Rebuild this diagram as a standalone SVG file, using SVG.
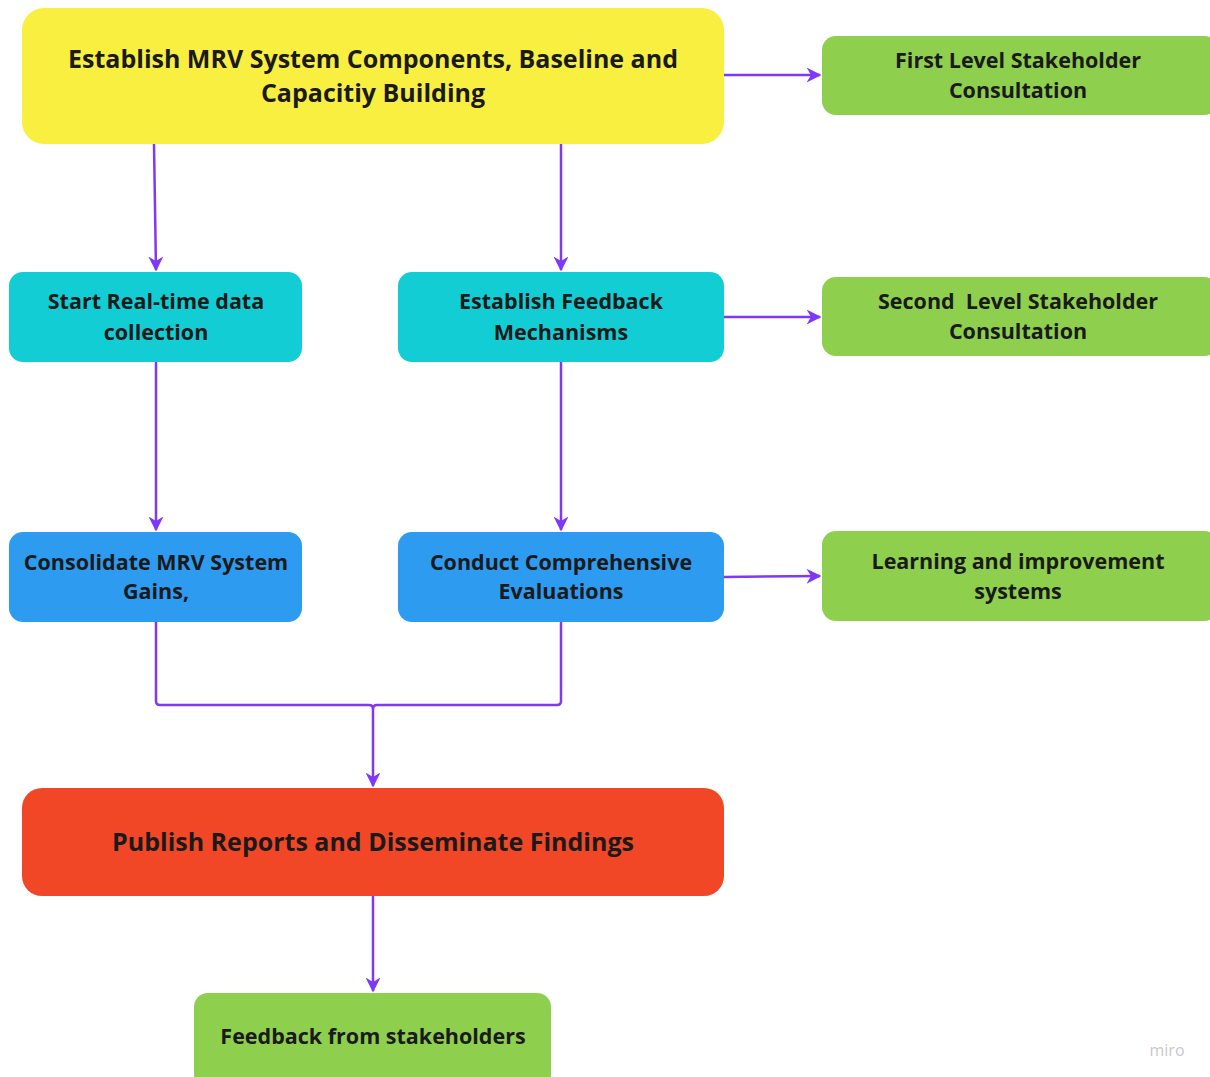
<svg xmlns="http://www.w3.org/2000/svg" width="1210" height="1077" viewBox="0 0 1210 1077">
<style>
.t{font-family:"Open Sans","Noto Sans","Liberation Sans",sans-serif;font-weight:700;fill:#1a1a1a;text-anchor:middle}
.big{font-size:25px}
.mid{font-size:21.5px}
.c{fill:none;stroke:#8038F8;stroke-width:2.5;stroke-linejoin:round}
</style>
<defs>
<marker id="ah" viewBox="0 0 10 10" refX="9" refY="5" markerWidth="6" markerHeight="6" orient="auto" markerUnits="strokeWidth">
<path d="M0,0 L10,5 L0,10 L3,5 z" fill="#8038F8"/>
</marker>
</defs>
<rect width="1210" height="1077" fill="#ffffff"/>
<g id="connectors">
<path class="c" d="M724,75 L820,75" marker-end="url(#ah)"/>
<path class="c" d="M154,144 L156,270" marker-end="url(#ah)"/>
<path class="c" d="M561,144 L561,270" marker-end="url(#ah)"/>
<path class="c" d="M724,317 L820,317" marker-end="url(#ah)"/>
<path class="c" d="M156,362 L156,530" marker-end="url(#ah)"/>
<path class="c" d="M561,362 L561,530" marker-end="url(#ah)"/>
<path class="c" d="M724,577 L820,576" marker-end="url(#ah)"/>
<path class="c" d="M156,622 L156,701 Q156,705 160,705 L369,705 Q373,705 373,709 L373,786" marker-end="url(#ah)"/>
<path class="c" d="M561,622 L561,701 Q561,705 557,705 L377,705 Q373,705 373,709"/>
<path class="c" d="M373,896 L373,991" marker-end="url(#ah)"/>
</g>
<g id="n1"><rect x="22" y="8" width="702" height="136" rx="22" fill="#F9EF40"/>
<text class="t big" x="373" y="68">Establish MRV System Components, Baseline and</text>
<text class="t big" x="373" y="102">Capacitiy Building</text></g>
<g id="n2"><rect x="822" y="36" width="396" height="79" rx="14" fill="#8ECF4D"/>
<text class="t mid" x="1018" y="68">First Level Stakeholder</text>
<text class="t mid" x="1018" y="98">Consultation</text></g>
<g id="n3"><rect x="9" y="272" width="293" height="90" rx="14" fill="#13CDD4"/>
<text class="t mid" x="156" y="309">Start Real-time data</text>
<text class="t mid" x="156" y="340">collection</text></g>
<g id="n4"><rect x="398" y="272" width="326" height="90" rx="14" fill="#13CDD4"/>
<text class="t mid" x="561" y="309">Establish Feedback</text>
<text class="t mid" x="561" y="340">Mechanisms</text></g>
<g id="n5"><rect x="822" y="277" width="396" height="79" rx="14" fill="#8ECF4D"/>
<text class="t mid" x="1018" y="309" style="white-space:pre">Second  Level Stakeholder</text>
<text class="t mid" x="1018" y="339">Consultation</text></g>
<g id="n6"><rect x="9" y="532" width="293" height="90" rx="14" fill="#2D9BF0"/>
<text class="t mid" x="156" y="570">Consolidate MRV System</text>
<text class="t mid" x="156" y="599">Gains,</text></g>
<g id="n7"><rect x="398" y="532" width="326" height="90" rx="14" fill="#2D9BF0"/>
<text class="t mid" x="561" y="570">Conduct Comprehensive</text>
<text class="t mid" x="561" y="599">Evaluations</text></g>
<g id="n8"><rect x="822" y="531" width="396" height="90" rx="14" fill="#8ECF4D"/>
<text class="t mid" x="1018" y="569">Learning and improvement</text>
<text class="t mid" x="1018" y="599">systems</text></g>
<g id="n9"><rect x="22" y="788" width="702" height="108" rx="20" fill="#F24726"/>
<text class="t big" x="373" y="851">Publish Reports and Disseminate Findings</text></g>
<g id="n10"><rect x="194" y="993" width="357" height="95" rx="14" fill="#8ECF4D"/>
<text class="t mid" x="373" y="1044">Feedback from stakeholders</text></g>
<text x="1167" y="1056" style="font-family:'Open Sans','Liberation Sans',sans-serif;font-size:16px;fill:#c8c8d0;text-anchor:middle">miro</text>
</svg>
